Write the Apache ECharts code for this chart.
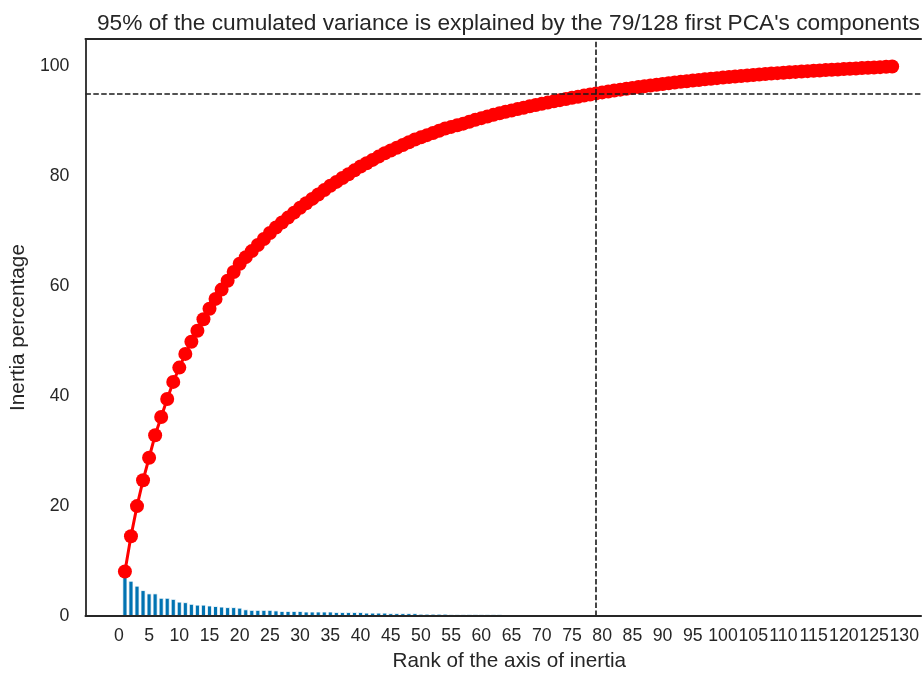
<!DOCTYPE html>
<html>
<head>
<meta charset="utf-8">
<script src="https://cdn.jsdelivr.net/npm/echarts@6/dist/echarts.min.js"></script>
<style>html,body{margin:0;padding:0;background:#fff;}#chart{width:922px;height:677px;}</style>
</head>
<body>
<div id="chart"></div>
<script>
// Individual explained variance (%) per PCA component, rank 1..128
var individualVariance = [
  8.1, 6.4, 5.5, 4.7, 4.1, 4.1, 3.3, 3.3, 3.1, 2.6,
  2.5, 2.2, 2.05, 2.05, 1.9, 1.8, 1.7, 1.6, 1.6, 1.5,
  1.2, 1.1, 1.1, 1.1, 1.1, 1.0, 0.9, 0.9, 0.9, 0.9,
  0.8, 0.8, 0.8, 0.8, 0.8, 0.7, 0.7, 0.7, 0.7, 0.7,
  0.6, 0.6, 0.6, 0.6, 0.5, 0.5, 0.5, 0.5, 0.5, 0.4,
  0.4, 0.4, 0.4, 0.4, 0.3, 0.3, 0.3, 0.35, 0.35, 0.3,
  0.3, 0.3, 0.3, 0.25, 0.25, 0.25, 0.25, 0.25, 0.25, 0.2,
  0.22, 0.22, 0.22, 0.22, 0.21, 0.2, 0.2, 0.2, 0.2, 0.18,
  0.17, 0.17, 0.16, 0.16, 0.16, 0.15, 0.15, 0.14, 0.14, 0.14,
  0.13, 0.13, 0.12, 0.12, 0.12, 0.11, 0.11, 0.11, 0.11, 0.10,
  0.10, 0.10, 0.10, 0.09, 0.09, 0.09, 0.08, 0.08, 0.08, 0.08,
  0.07, 0.07, 0.07, 0.07, 0.07, 0.06, 0.06, 0.06, 0.06, 0.06,
  0.06, 0.06, 0.06, 0.06, 0.06, 0.06, 0.06, 0.06
];
// Cumulated explained variance (%)
var cumulatedVariance = [
  8.1, 14.5, 20.0, 24.7, 28.8, 32.9, 36.2, 39.5, 42.6, 45.2,
  47.7, 49.9, 51.9, 54.0, 55.9, 57.7, 59.4, 61.0, 62.6, 64.1,
  65.3, 66.4, 67.5, 68.6, 69.7, 70.7, 71.6, 72.5, 73.4, 74.3,
  75.1, 75.9, 76.7, 77.5, 78.3, 79.0, 79.7, 80.4, 81.1, 81.8,
  82.4, 83.0, 83.6, 84.2, 84.7, 85.2, 85.7, 86.2, 86.7, 87.1,
  87.5, 87.9, 88.3, 88.7, 89.0, 89.3, 89.6, 89.95, 90.3, 90.6,
  90.9, 91.2, 91.5, 91.75, 92.0, 92.25, 92.5, 92.75, 93.0, 93.2,
  93.43, 93.65, 93.87, 94.09, 94.3, 94.5, 94.7, 94.9, 95.1, 95.28,
  95.45, 95.62, 95.78, 95.94, 96.1, 96.25, 96.4, 96.54, 96.68, 96.82,
  96.95, 97.08, 97.2, 97.32, 97.44, 97.55, 97.66, 97.77, 97.88, 97.98,
  98.08, 98.18, 98.28, 98.37, 98.46, 98.55, 98.63, 98.71, 98.79, 98.87,
  98.94, 99.01, 99.08, 99.15, 99.22, 99.28, 99.34, 99.40, 99.46, 99.52,
  99.58, 99.64, 99.70, 99.76, 99.82, 99.88, 99.94, 100.0
];
var xTickLabels = [0,5,10,15,20,25,30,35,40,45,50,55,60,65,70,75,80,85,90,95,100,105,110,115,120,125,130];
var yTickLabels = [0,20,40,60,80,100];
var thresholdPercent = 95;
var thresholdRank = 79;
var totalComponents = 128;

var ranks = [];
for (var i = 0; i < individualVariance.length; i++) ranks.push(i + 1);
var barData = ranks.map(function (r, i) { return [r, individualVariance[i]]; });
var lineData = ranks.map(function (r, i) { return [r, cumulatedVariance[i]]; });

var FONT = "'Liberation Sans', Arial, sans-serif";
var TXT = '#262626';
var X_MIN = -5.54, X_MAX = 132.8;
var chart = echarts.init(document.getElementById('chart'), null, {renderer: 'canvas'});
chart.setOption({
  animation: false,
  backgroundColor: '#ffffff',
  title: {
    text: thresholdPercent + '% of the cumulated variance is explained by the ' + thresholdRank + '/' + totalComponents + " first PCA's components",
    left: 92, top: 7,
    textStyle: {fontFamily: FONT, fontSize: 22.7, fontWeight: 'normal', color: TXT}
  },
  grid: {left: 85, top: 39, bottom: 59.5, right: 0},
  xAxis: [{
    type: 'value', min: X_MIN, max: X_MAX, z: 5,
    name: 'Rank of the axis of inertia', nameLocation: 'middle', nameGap: 35,
    nameTextStyle: {fontFamily: FONT, fontSize: 20.7, color: TXT, padding: [0, 0, 0, 12]},
    axisLine: {show: true, onZero: false, lineStyle: {color: TXT, width: 1.8}},
    axisTick: {show: false},
    splitLine: {show: false},
    axisLabel: {customValues: xTickLabels, fontFamily: FONT, fontSize: 17.7, color: TXT, margin: 11}
  }, {
    type: 'value', position: 'top', min: X_MIN, max: X_MAX, z: 5,
    axisLine: {show: true, onZero: false, lineStyle: {color: TXT, width: 1.8}},
    axisTick: {show: false}, axisLabel: {show: false}, splitLine: {show: false}
  }],
  yAxis: {
    type: 'value', min: 0, max: 105, z: 5,
    name: 'Inertia percentage', nameLocation: 'middle', nameGap: 46,
    nameTextStyle: {fontFamily: FONT, fontSize: 20.7, color: TXT},
    axisLine: {show: true, onZero: false, lineStyle: {color: TXT, width: 1.8}},
    axisTick: {show: false},
    splitLine: {show: false},
    axisLabel: {customValues: yTickLabels, fontFamily: FONT, fontSize: 17.7, color: TXT, margin: 16}
  },
  series: [{
    type: 'bar', data: barData, barWidth: 4.9,
    itemStyle: {color: '#0173b2', borderColor: '#ffffff', borderWidth: 0.8},
    z: 2
  }, {
    type: 'line', data: lineData,
    lineStyle: {color: '#ff0000', width: 3},
    itemStyle: {color: '#ff0000'},
    symbol: 'circle', symbolSize: 14, showSymbol: true,
    z: 3
  }, {
    type: 'line', data: [],
    z: 10,
    markLine: {
      silent: true, symbol: 'none',
      label: {show: false},
      lineStyle: {color: '#1a1a1a', type: [5.5, 2.4], width: 1.6},
      data: [{xAxis: thresholdRank}, {yAxis: thresholdPercent}]
    }
  }]
});
</script>
</body>
</html>
